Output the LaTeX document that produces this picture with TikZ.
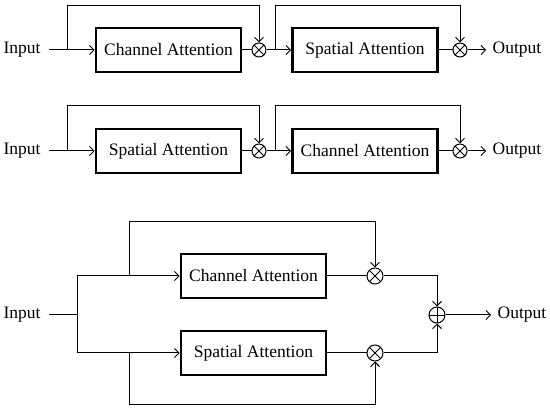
\documentclass[tikz,border=0pt]{standalone}
\usepackage{fontspec}
\setmainfont{Liberation Serif}
\usetikzlibrary{arrows.meta}
\begin{document}
\begin{tikzpicture}[x=1pt,y=-1pt,line width=1pt,
  lbl/.style={font=\fontsize{17.5}{20}\selectfont,inner sep=0pt},
  block/.style={draw,line width=2.6pt,minimum width=145pt,minimum height=44pt,inner sep=0pt,font=\fontsize{17.5}{20}\selectfont},
  mult/.style={draw,circle,line width=1pt,minimum size=#1,inner sep=0pt,
    path picture={\draw[line width=0.9pt] (path picture bounding box.north west) -- (path picture bounding box.south east)
      (path picture bounding box.north east) -- (path picture bounding box.south west);}},
  addc/.style={draw,circle,line width=1pt,minimum size=#1,inner sep=0pt,
    path picture={\draw[line width=0.9pt] (path picture bounding box.north) -- (path picture bounding box.south)
      (path picture bounding box.east) -- (path picture bounding box.west);}},
  arr/.style={-{Straight Barb[length=4.5pt,width=9pt]}}]
\useasboundingbox (0,0) rectangle (550,414);

% Row 1
\node[lbl] (in1) at (22,50) {Input};
\node[block] (ca1) at (168.5,50) {Channel Attention};
\node[mult=14pt] (m1) at (259,50) {};
\node[block] (sa1) at (365,50) {Spatial Attention};
\node[mult=14pt] (m2) at (460,50) {};
\node[lbl] (out1) at (517,50) {Output};
\coordinate (b1) at (67,50); \coordinate (t1) at (67,6);
\coordinate (b2) at (275,50); \coordinate (t2) at (275,6);
\draw[arr] ([xshift=8pt]in1.east) -- (ca1);
\draw[arr] (b1) -- (t1) -| (m1);
\draw (ca1) -- (m1);
\draw[arr] (m1) -- (sa1);
\draw[arr] (b2) -- (t2) -| (m2);
\draw (sa1) -- (m2);
\draw[arr] (m2) -- ([xshift=-6pt]out1.west);

% Row 2
\node[lbl] (in2) at (22,151) {Input};
\node[block] (sa2) at (168.5,151) {Spatial Attention};
\node[mult=14pt] (m3) at (259,151) {};
\node[block] (ca2) at (365,151) {Channel Attention};
\node[mult=14pt] (m4) at (460,151) {};
\node[lbl] (out2) at (517,151) {Output};
\coordinate (b3) at (67,151); \coordinate (t3) at (67,106);
\coordinate (b4) at (275,151); \coordinate (t4) at (275,106);
\draw[arr] ([xshift=8pt]in2.east) -- (sa2);
\draw[arr] (b3) -- (t3) -| (m3);
\draw (sa2) -- (m3);
\draw[arr] (m3) -- (ca2);
\draw[arr] (b4) -- (t4) -| (m4);
\draw (ca2) -- (m4);
\draw[arr] (m4) -- ([xshift=-6pt]out2.west);

% Row 3
\node[lbl] (in3) at (22,315) {Input};
\node[block] (ca3) at (253.5,276) {Channel Attention};
\node[block] (sa3) at (253.5,353) {Spatial Attention};
\node[mult=16pt] (m5) at (375,276) {};
\node[mult=16pt] (m6) at (375,353) {};
\node[addc=16pt] (p) at (437,315) {};
\node[lbl] (out3) at (522,315) {Output};
\coordinate (s3) at (77,315);
\coordinate (b5) at (129,276); \coordinate (t5) at (129,222);
\coordinate (b6) at (129,353); \coordinate (t6) at (129,405);
\draw ([xshift=8pt]in3.east) -- (s3);
\draw[arr] (s3) |- (ca3);
\draw[arr] (s3) |- (sa3);
\draw[arr] (b5) -- (t5) -| (m5);
\draw[arr] (b6) -- (t6) -| (m6);
\draw (ca3) -- (m5);
\draw (sa3) -- (m6);
\draw[arr] (m5) -| (p);
\draw[arr] (m6) -| (p);
\draw[arr] (p) -- ([xshift=-6pt]out3.west);
\end{tikzpicture}
\end{document}
